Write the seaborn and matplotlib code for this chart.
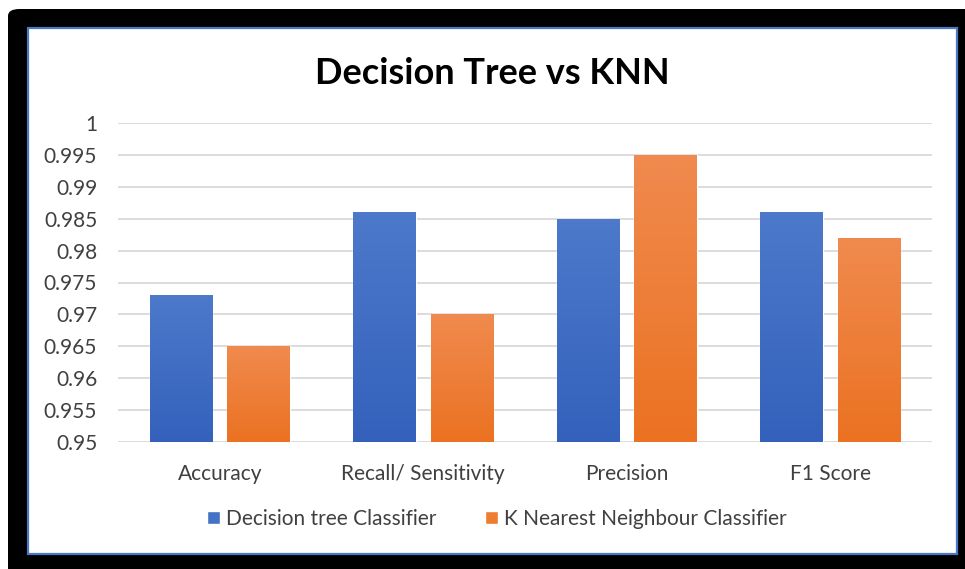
import numpy as np
import pandas as pd
import matplotlib
matplotlib.use("Agg")
import matplotlib.pyplot as plt
from matplotlib.patches import FancyBboxPatch, Rectangle
from matplotlib.colors import LinearSegmentedColormap
import seaborn as sns

# ---- data ----
metrics = ["Accuracy", "Recall/ Sensitivity", "Precision", "F1 Score"]
decision_tree = [0.973, 0.986, 0.985, 0.986]
knn = [0.965, 0.970, 0.995, 0.982]
series_names = ["Decision tree Classifier", "K Nearest Neighbour Classifier"]
y_ticks = [0.95, 0.955, 0.96, 0.965, 0.97, 0.975, 0.98, 0.985, 0.99, 0.995, 1.0]
y_tick_labels = ["0.95", "0.955", "0.96", "0.965", "0.97", "0.975",
                 "0.98", "0.985", "0.99", "0.995", "1"]

df = pd.DataFrame({
    "metric": metrics * 2,
    "score": decision_tree + knn,
    "model": [series_names[0]] * len(metrics) + [series_names[1]] * len(metrics),
})

sns.set_theme(style="white")
plt.rcParams["font.family"] = ["Lato", "DejaVu Sans"]

W, H = 965, 569
fig = plt.figure(figsize=(W / 100, H / 100), dpi=100)
fig.patch.set_facecolor("white")


def fx(px):
    return px / W


def fy(py):
    return 1 - py / H


# black outer frame with rounded corners
frame = FancyBboxPatch((fx(8), fy(569 + 20)), fx(965 + 20 - 8), fy(9) - fy(589),
                       boxstyle="round,pad=0,rounding_size=0.012",
                       transform=fig.transFigure, facecolor="black",
                       edgecolor="none", zorder=-3)
fig.patches.append(frame)
# white chart area with thin blue border
inner = Rectangle((fx(28), fy(554)), fx(957 - 28), fy(28) - fy(554),
                  transform=fig.transFigure, facecolor="white",
                  edgecolor="#4a78c8", linewidth=1.6, zorder=-2)
fig.patches.append(inner)

ax = fig.add_axes([fx(118), fy(441.7), fx(932 - 118), fy(123.3) - fy(441.7)])
ax.set_facecolor("none")

blue = "#4472C4"
orange = "#ED7D31"
sns.barplot(data=df, x="metric", y="score", hue="model", order=metrics,
            hue_order=series_names, palette=[blue, orange],
            width=0.76, gap=0.19, ax=ax, zorder=3, saturation=1)

ax.set_ylim(0.95, 1.0)
ax.set_xlim(-0.5, len(metrics) - 0.5)
ax.set_yticks(y_ticks)
ax.set_yticklabels(y_tick_labels)
ax.yaxis.grid(True, color="#d9d9d9", linewidth=1.3, zorder=0)
ax.set_axisbelow(True)
for s in ax.spines.values():
    s.set_visible(False)
ax.tick_params(axis="y", length=0, pad=15, labelsize=15, labelcolor="#404040")
ax.tick_params(axis="x", length=0, pad=16, labelsize=15, labelcolor="#404040")
ax.set_xlabel("")
ax.set_ylabel("")

# vertical gradient fill on each bar
grads = {
    0: LinearSegmentedColormap.from_list("b", ["#3461bb", "#4d79cb"]),
    1: LinearSegmentedColormap.from_list("o", ["#eb7222", "#f08a4e"]),
}
ramp = np.linspace(0, 1, 64).reshape(-1, 1)
for i, cont in enumerate(ax.containers):
    for bar in cont:
        x0, y0 = bar.get_x(), bar.get_y()
        w, h = bar.get_width(), bar.get_height()
        bottom = max(y0, 0.95)
        top = y0 + h
        im = ax.imshow(ramp, cmap=grads[i], origin="lower", aspect="auto",
                       extent=(x0, x0 + w, bottom, top), zorder=3.5,
                       interpolation="bilinear")
        im.set_clip_path(bar)
ax.set_xlim(-0.5, len(metrics) - 0.5)
ax.set_ylim(0.95, 1.0)

handles, labels = ax.get_legend_handles_labels()
ax.get_legend().remove()
fig.legend(handles, labels, loc="center", bbox_to_anchor=(fx(497), fy(519)),
           ncol=2, frameon=False, fontsize=15, handlelength=0.6,
           handleheight=0.6, handletextpad=0.3, columnspacing=2.35,
           labelcolor="#404040")

fig.text(fx(492), fy(73), "Decision Tree vs KNN", ha="center", va="center",
         fontsize=26, fontweight="bold", color="black")

fig.savefig("out.png", dpi=100)
